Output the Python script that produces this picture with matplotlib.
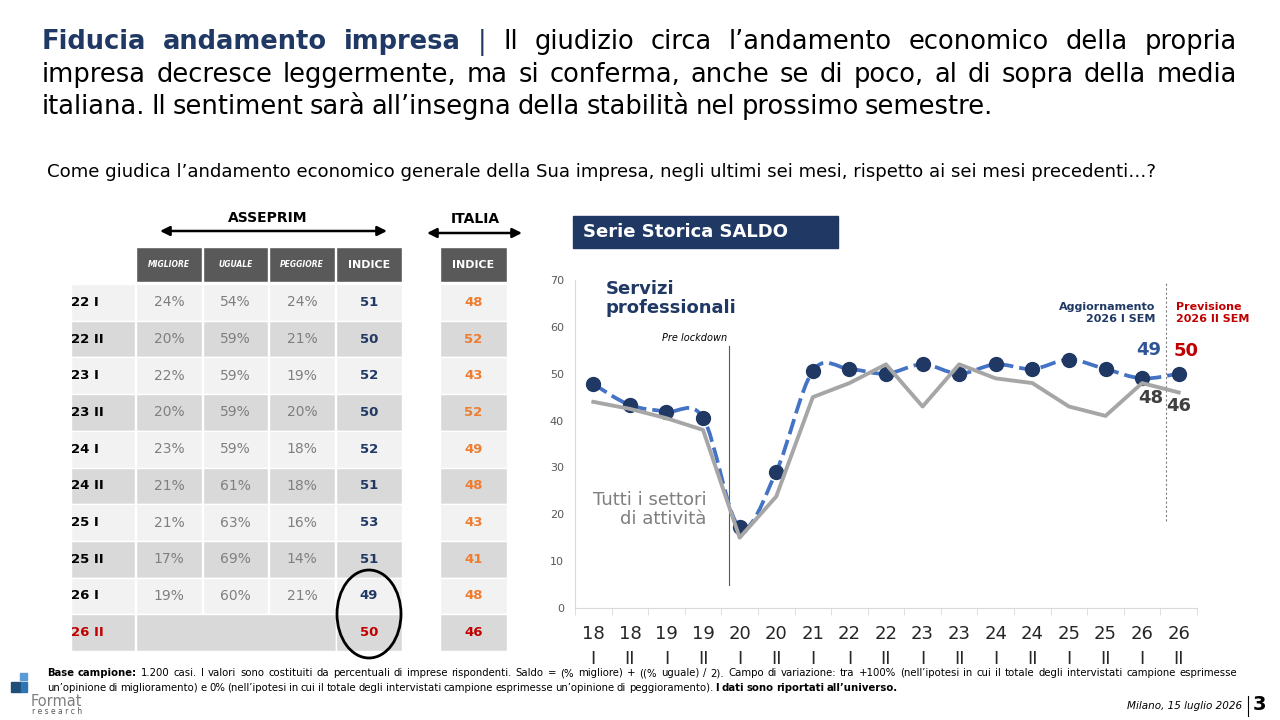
import numpy as np
import matplotlib
matplotlib.use("Agg")
import matplotlib.pyplot as plt
from matplotlib.patches import Rectangle, Ellipse, PathPatch
from matplotlib.path import Path

NAVY = "#1F3864"
BLUE = "#4472C4"
GRAY = "#A6A6A6"
RED = "#C00000"
ORANGE = "#ED7D31"

# chart periods (year, half)
years = ["18", "18", "19", "19", "20", "20", "21", "22", "22", "23", "23", "24", "24", "25", "25", "26", "26"]
halves = ["I", "II", "I", "II", "I", "II", "I", "I", "II", "I", "II", "I", "II", "I", "II", "I", "II"]

# values before the table period
servizi_early = [47.8, 43.3, 41.9, 40.6, 17.2, 29.1, 50.6]
tutti_early = [44.0, 42.5, 40.5, 38.0, 15.0, 23.8, 45.0]

# table
row_labels = ["22 I", "22 II", "23 I", "23 II", "24 I", "24 II", "25 I", "25 II", "26 I", "26 II"]
migliore = [24, 20, 22, 20, 23, 21, 21, 17, 19, None]
uguale = [54, 59, 59, 59, 59, 61, 63, 69, 60, None]
peggiore = [24, 21, 19, 20, 18, 18, 16, 14, 21, None]
indice = [51, 50, 52, 50, 52, 51, 53, 51, 49, 50]
italia = [48, 52, 43, 52, 49, 48, 43, 41, 48, 46]
header = ["MIGLIORE", "UGUALE", "PEGGIORE", "INDICE"]

servizi = servizi_early + indice
tutti = tutti_early + italia

title_lines = [
    [("Fiducia", 1), ("andamento", 1), ("impresa", 1), ("|", 2),
     ("Il", 0), ("giudizio", 0), ("circa", 0), ("l’andamento", 0),
     ("economico", 0), ("della", 0), ("propria", 0)],
    [(w, 0) for w in "impresa decresce leggermente, ma si conferma, anche se di poco, al di sopra della media".split()],
    [(w, 0) for w in "italiana. Il sentiment sarà all’insegna della stabilità nel prossimo semestre.".split()],
]
subtitle = ("Come giudica l’andamento economico generale della Sua impresa, "
            "negli ultimi sei mesi, rispetto ai sei mesi precedenti…?")
foot1 = [("Base", 1), ("campione:", 1)] + [(w, 0) for w in (
    "1.200 casi. I valori sono costituiti da percentuali di imprese rispondenti. "
    "Saldo = (% migliore) + ((% uguale) / 2). Campo di variazione: tra +100% "
    "(nell’ipotesi in cui il totale degli intervistati campione esprimesse").split()]
foot2 = [(w, 0) for w in (
    "un’opinione di miglioramento) e 0% (nell’ipotesi in cui il totale degli "
    "intervistati campione esprimesse un’opinione di peggioramento).").split()] + \
    [(w, 1) for w in "I dati sono riportati all’universo.".split()]

fig = plt.figure(figsize=(12.8, 7.2), dpi=100)
ov = fig.add_axes([0, 0, 1, 1])
ov.set_xlim(0, 1280)
ov.set_ylim(720, 0)
ov.axis("off")
renderer = fig.canvas.get_renderer()


def put_line(words, x0, x1, y, size, justify=True):
    texts = []
    for w, style in words:
        t = ov.text(0, y, w, fontsize=size, va="center", ha="left",
                    fontweight="bold" if style == 1 else "normal",
                    color=NAVY if style in (1, 2) and size > 10 else "#000000")
        texts.append(t)
    widths = [t.get_window_extent(renderer).width for t in texts]
    if justify and len(texts) > 1:
        gap = (x1 - x0 - sum(widths)) / (len(texts) - 1)
    else:
        gap = size * 0.34
    x = x0
    for t, w in zip(texts, widths):
        t.set_x(x)
        x += w + gap


# title
put_line(title_lines[0], 42, 1237, 42, 18.5)
put_line(title_lines[1], 42, 1237, 75, 18.5)
put_line(title_lines[2], 42, 1237, 107, 18.5, justify=False)
ov.text(47, 172, subtitle, fontsize=13.1, va="center", ha="left", color="#000000")

# footer
put_line(foot1, 47, 1237, 673, 7.3)
put_line(foot2, 47, 1237, 688, 7.3, justify=False)
ov.text(1242, 706, "Milano, 15 luglio 2026", fontsize=7.5, style="italic",
        ha="right", va="center")
ov.plot([1248, 1248], [696, 716], color="#000000", lw=0.8)
ov.text(1253, 705, "3", fontsize=14, fontweight="bold", ha="left", va="center")

# logo
ov.add_patch(Rectangle((20, 673), 7, 7, color="#5B9BD5"))
ov.add_patch(Rectangle((11, 682), 10, 10, color="#1F4E79"))
ov.add_patch(Rectangle((21, 682), 6, 10, color="#2E75B6"))
ov.text(31, 701, "Format", fontsize=10.5, color="#7F7F7F", ha="left", va="center")
ov.text(32, 712, "r e s e a r c h", fontsize=5.5, color="#595959", ha="left", va="center")

# table
col_x = [71, 136, 203, 269, 336]
col_w = [64, 66, 65, 66, 66]
it_x, it_w = 440, 67
head_y, head_h = 247, 35
row_y0, row_h = 284, 36.7

for j, h in enumerate(header):
    x, w = col_x[j + 1], col_w[j + 1]
    ov.add_patch(Rectangle((x, head_y), w, head_h, facecolor="#595959",
                           edgecolor="white", lw=1))
    if h == "INDICE":
        ov.text(x + w / 2, head_y + head_h / 2, h, fontsize=8, fontweight="bold",
                color="white", ha="center", va="center")
    else:
        ov.text(x + w / 2, head_y + head_h / 2, h, fontsize=5.5, style="italic",
                fontweight="bold", color="white", ha="center", va="center")
ov.add_patch(Rectangle((it_x, head_y), it_w, head_h, facecolor="#595959",
                       edgecolor="white", lw=1))
ov.text(it_x + it_w / 2, head_y + head_h / 2, "INDICE", fontsize=8,
        fontweight="bold", color="white", ha="center", va="center")

for i, lab in enumerate(row_labels):
    y = row_y0 + i * row_h
    yc = y + row_h / 2
    bg = "#F2F2F2" if i % 2 == 0 else "#D9D9D9"
    last = migliore[i] is None
    ov.add_patch(Rectangle((col_x[0], y), col_w[0], row_h, facecolor=bg,
                           edgecolor="white", lw=1))
    if last:
        ov.add_patch(Rectangle((col_x[1], y), col_x[4] - col_x[1], row_h,
                               facecolor=bg, edgecolor="white", lw=1))
    else:
        for j, vals in enumerate([migliore, uguale, peggiore]):
            x, w = col_x[j + 1], col_w[j + 1]
            ov.add_patch(Rectangle((x, y), w, row_h, facecolor=bg,
                                   edgecolor="white", lw=1))
            ov.text(x + w / 2, yc, f"{vals[i]}%", fontsize=10, color="#7F7F7F",
                    ha="center", va="center")
    ov.add_patch(Rectangle((col_x[4], y), col_w[4], row_h, facecolor=bg,
                           edgecolor="white", lw=1))
    ov.add_patch(Rectangle((it_x, y), it_w, row_h, facecolor=bg,
                           edgecolor="white", lw=1))
    ov.text(col_x[0], yc, lab, fontsize=9.5, fontweight="bold",
            color=RED if last else "#000000", ha="left", va="center")
    ov.text(col_x[4] + col_w[4] / 2, yc, str(indice[i]), fontsize=9.5,
            fontweight="bold", color=RED if last else NAVY, ha="center", va="center")
    ov.text(it_x + it_w / 2, yc, str(italia[i]), fontsize=9.5, fontweight="bold",
            color=RED if last else ORANGE, ha="center", va="center")

ov.add_patch(Ellipse((369, 614), 64, 88, fill=False, edgecolor="black", lw=2))

ov.text(268, 218, "ASSEPRIM", fontsize=10, fontweight="bold", ha="center", va="center")
ov.annotate("", xy=(160, 231), xytext=(387, 231),
            arrowprops=dict(arrowstyle="<|-|>", color="black", lw=1.8,
                            mutation_scale=14, shrinkA=0, shrinkB=0))
ov.text(475, 219, "ITALIA", fontsize=10, fontweight="bold", ha="center", va="center")
ov.annotate("", xy=(427, 233), xytext=(522, 233),
            arrowprops=dict(arrowstyle="<|-|>", color="black", lw=1.8,
                            mutation_scale=14, shrinkA=0, shrinkB=0))

# chart title box
ov.add_patch(Rectangle((573, 216), 265, 32, color=NAVY))
ov.text(583, 232, "Serie Storica SALDO", fontsize=13, fontweight="bold",
        color="white", ha="left", va="center")

# chart
ax = fig.add_axes([575 / 1280, 112 / 720, 622 / 1280, 328 / 720])
ax.set_facecolor("none")
xs = np.arange(len(servizi))


def smooth_path(x, y, k=1 / 6):
    verts = [(x[0], y[0])]
    codes = [Path.MOVETO]
    n = len(x)
    for i in range(n - 1):
        p0 = max(i - 1, 0)
        p3 = min(i + 2, n - 1)
        c1 = (x[i] + (x[i + 1] - x[p0]) * k, y[i] + (y[i + 1] - y[p0]) * k)
        c2 = (x[i + 1] - (x[p3] - x[i]) * k, y[i + 1] - (y[p3] - y[i]) * k)
        verts += [c1, c2, (x[i + 1], y[i + 1])]
        codes += [Path.CURVE4] * 3
    return Path(verts, codes)


ax.add_patch(PathPatch(smooth_path(xs, servizi), fill=False, edgecolor=BLUE,
                       lw=2.7, linestyle=(0, (4.2, 1.6)), zorder=2))
ax.plot(xs, servizi, "o", ms=10, color=NAVY, zorder=3)
ax.plot(xs, tutti, color=GRAY, lw=2.8, zorder=4)

ax.set_xlim(-0.5, len(xs) - 0.5)
ax.set_ylim(0, 70)
ax.set_yticks(range(0, 71, 10))
ax.tick_params(axis="y", length=0, labelsize=8, labelcolor="#595959", pad=8)
ax.set_xticks(xs)
ax.set_xticklabels([f"{y}\n{h}" for y, h in zip(years, halves)], fontsize=13,
                   color="#262626", linespacing=1.5)
ax.set_xticks(np.arange(-0.5, len(xs)), minor=True)
ax.tick_params(axis="x", which="major", length=0, pad=12)
ax.tick_params(axis="x", which="minor", length=5, color="#D9D9D9")
for s in ["top", "right"]:
    ax.spines[s].set_visible(False)
for s in ["left", "bottom"]:
    ax.spines[s].set_color("#D9D9D9")

# pre lockdown marker
ax.plot([3.7, 3.7], [5, 56], color="#595959", lw=0.8, zorder=1)
ax.text(3.65, 56.5, "Pre lockdown", fontsize=7, style="italic", ha="right", va="bottom")
# forecast separator
ax.plot([15.65, 15.65], [18.5, 69.5], color="#7F7F7F", lw=0.8, linestyle=(0, (2, 2)), zorder=1)
ax.text(15.35, 62.9, "Aggiornamento\n2026 I SEM", fontsize=8, fontweight="bold",
        color=NAVY, ha="right", va="center", multialignment="right")
ax.text(15.93, 62.9, "Previsione\n2026 II SEM", fontsize=8, fontweight="bold",
        color=RED, ha="left", va="center")

ax.annotate(str(servizi[-2]), (15, servizi[-2]), xytext=(7, 28), textcoords="offset pixels",
            fontsize=13, fontweight="bold", color="#2F5597", ha="center", va="center")
ax.annotate(str(servizi[-1]), (16, servizi[-1]), xytext=(7, 23), textcoords="offset pixels",
            fontsize=13, fontweight="bold", color=RED, ha="center", va="center")
ax.annotate(str(tutti[-2]), (15, tutti[-2]), xytext=(9, -15), textcoords="offset pixels",
            fontsize=13, fontweight="bold", color="#404040", ha="center", va="center")
ax.annotate(str(tutti[-1]), (16, tutti[-1]), xytext=(0, -14), textcoords="offset pixels",
            fontsize=13, fontweight="bold", color="#404040", ha="center", va="center")

ax.text(0.33, 66, "Servizi\nprofessionali", fontsize=13, fontweight="bold", color=NAVY,
        ha="left", va="center", linespacing=1.1)
ax.text(3.1, 21, "Tutti i settori\ndi attività", fontsize=13, color="#7F7F7F",
        ha="right", va="center", multialignment="right", linespacing=1.1)

fig.savefig("out.png", dpi=100)
